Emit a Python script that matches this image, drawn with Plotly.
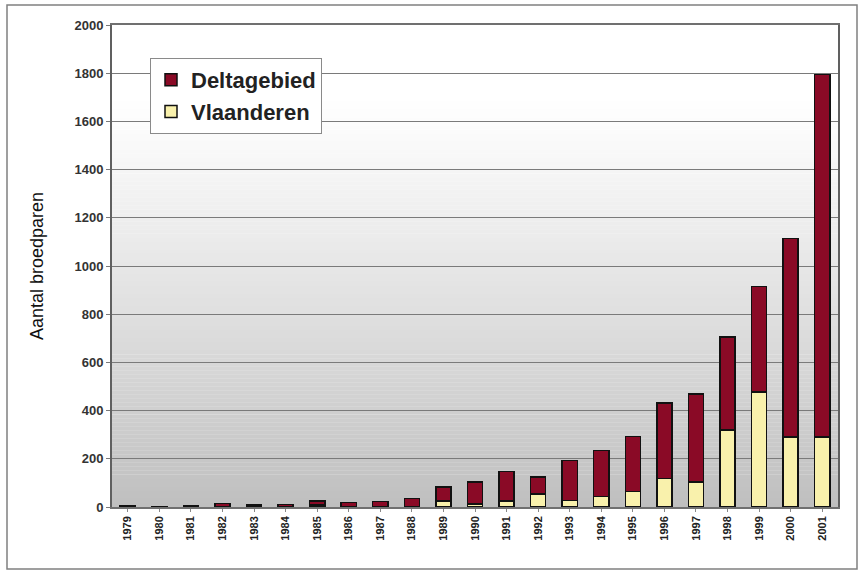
import plotly.graph_objects as go

years = [str(y) for y in range(1979, 2002)]
vlaanderen = [0, 0, 0, 0, 0, 0, 8, 0, 0, 0, 25, 12, 25, 54, 28, 43, 64, 119, 103, 320, 477, 290, 290]
deltagebied = [5, 3, 6, 14, 8, 10, 17, 18, 22, 35, 57, 92, 122, 70, 165, 191, 229, 312, 366, 386, 437, 824, 1505]
y_ticks = list(range(0, 2001, 200))

DELTA_COLOR = "#8a0a26"
VLA_COLOR = "#f9f1ac"

fig = go.Figure()
fig.add_trace(go.Bar(x=years, y=vlaanderen, name="Vlaanderen",
                     marker=dict(color=VLA_COLOR, line=dict(color="#111111", width=1.5))))
fig.add_trace(go.Bar(x=years, y=deltagebied, name="Deltagebied",
                     marker=dict(color=DELTA_COLOR, line=dict(color="#111111", width=1.5))))

# gradient background of plot area (decoration)
shapes = []
n = 120
for i in range(n):
    f0 = i / n
    f1 = (i + 1) / n
    fm = (f0 + f1) / 2  # fraction from top
    if fm < 0.15:
        g = 255
    else:
        t = (fm - 0.15) / 0.85
        g = int(round(255 - 64 * t ** 1.1))
    col = f"rgb({g},{g},{g})"
    shapes.append(dict(type="rect", xref="x domain", yref="y domain",
                       x0=0, x1=1, y0=1 - f1, y1=1 - f0 + 0.0005,
                       fillcolor=col, line=dict(width=0), layer="below"))
# outer frame
L, R, T, B = 112, 838, 25, 507
W, H = R - L, B - T
def px(x):
    return (x - L) / W
def py(y):
    return (B - y) / H
shapes.append(dict(type="rect", xref="paper", yref="paper",
                   x0=px(7), x1=px(857), y0=py(569), y1=py(5),
                   line=dict(color="#808080", width=1.5), fillcolor="rgba(0,0,0,0)", layer="above"))

fig.update_layout(
    width=863, height=571,
    margin=dict(l=L, r=863 - R, t=T, b=571 - B, autoexpand=False),
    paper_bgcolor="white",
    plot_bgcolor="white",
    barmode="stack",
    bargap=0.52,
    shapes=shapes,
    font=dict(family="Liberation Sans, Arial, sans-serif", color="#222222"),
    legend=dict(
        x=px(150), y=py(58), xanchor="left", yanchor="top",
        traceorder="reversed",
        bgcolor="white", bordercolor="#8a8a8a", borderwidth=1,
        font=dict(size=22, color="#222222", family="Liberation Sans, Arial, sans-serif", weight="bold"),
        itemwidth=30, tracegroupgap=4,
    ),
    showlegend=True,
)
fig.update_yaxes(
    range=[0, 2000], tickvals=y_ticks, ticktext=[str(v) for v in y_ticks],
    showgrid=True, gridcolor="#7a7a7a", gridwidth=1,
    ticks="outside", ticklen=4, tickcolor="#7a7a7a",
    tickfont=dict(size=13, color="#333333", weight="bold"),
    showline=True, linecolor="#606060", linewidth=2, mirror=True,
    title=dict(text="Aantal broedparen", font=dict(size=18, color="#111111"), standoff=26),
    zeroline=False,
)
fig.update_xaxes(
    tickangle=-90, tickfont=dict(size=11, color="#222222", weight="bold"),
    showline=True, linecolor="#707070", linewidth=1.5, mirror=True,
    ticks="outside", ticklen=3, tickcolor="#888888",
)

fig.write_html("out.html", config={"displayModeBar": False},
               post_script="document.body.style.margin='0';document.body.style.overflow='hidden';")
